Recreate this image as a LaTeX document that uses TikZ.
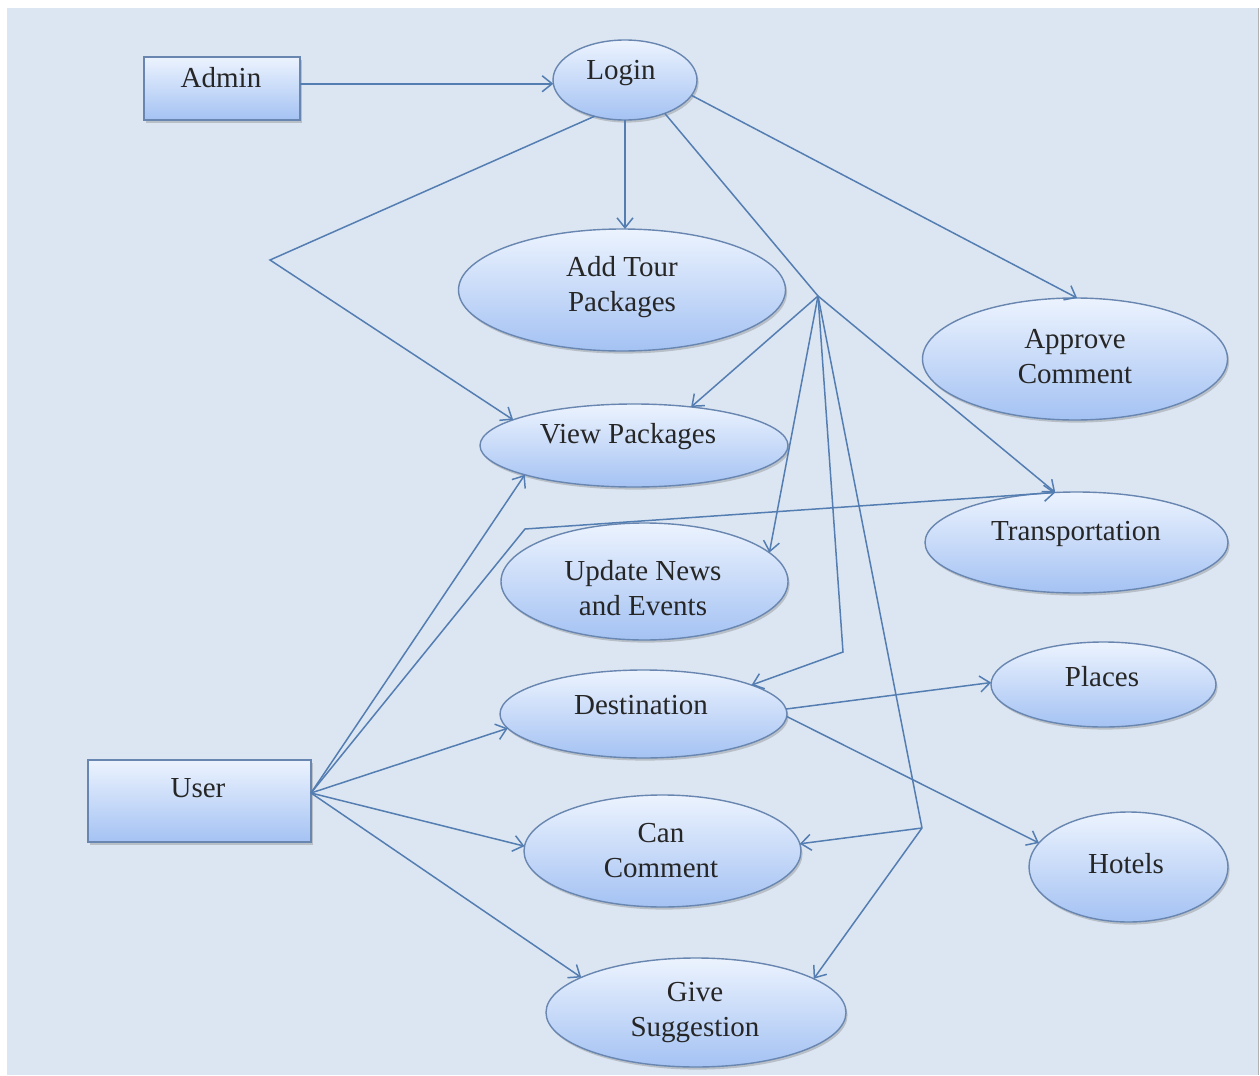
\documentclass[tikz,border=0pt]{standalone}
\usepackage{fontspec}
\setmainfont{Liberation Serif}
\usetikzlibrary{arrows.meta,shapes.geometric,shadows,calc}
\definecolor{bgc}{RGB}{220,230,242}
\definecolor{nodetop}{RGB}{236,243,254}
\definecolor{nodebot}{RGB}{164,194,243}
\definecolor{nodeedge}{RGB}{104,134,176}
\definecolor{linec}{RGB}{84,126,178}
\begin{document}
\begin{tikzpicture}[x=0.5pt,y=-0.5pt,
  shp/.style={draw=nodeedge, line width=0.7pt, top color=nodetop, bottom color=nodebot,
    drop shadow={shadow xshift=0.8pt,shadow yshift=-1.3pt,opacity=0.3,fill=black!60},
    inner sep=0pt, outer sep=0pt},
  uc/.style={shp, ellipse},
  actor/.style={shp, rectangle},
  lbl/.style={font=\fontsize{14.5}{17.5}\selectfont, align=center, inner sep=0pt, text=black!85},
  conn/.style={draw=linec, line width=0.75pt},
  arr/.style={conn, -{Straight Barb[length=5pt,width=8pt]}}
]
\useasboundingbox (0,0) rectangle (1260,1076);
\fill[white] (0,0) rectangle (1260,1076);
\fill[bgc] (7,8) rectangle (1258,1075);
\draw[gray!60, line width=0.6pt] (1258.5,8) -- (1258.5,1075);

% shapes
\node[actor, minimum width=78pt, minimum height=31.5pt] (admin) at (222,88.5) {};
\node[actor, minimum width=111.5pt, minimum height=41pt] (user) at (199.5,801) {};
\node[uc, minimum width=72pt, minimum height=40pt] (login) at (625,80) {};
\node[uc, minimum width=163.5pt, minimum height=61pt] (addtour) at (622,290) {};
\node[uc, minimum width=152.5pt, minimum height=61pt] (approve) at (1075,359) {};
\node[uc, minimum width=154pt, minimum height=41.5pt] (viewpk) at (634,445.5) {};
\node[uc, minimum width=151.5pt, minimum height=50.5pt] (transport) at (1076.5,542.5) {};
\node[uc, minimum width=143.5pt, minimum height=58.5pt] (updnews) at (644.5,581.5) {};
\node[uc, minimum width=143.5pt, minimum height=44pt] (dest) at (643.5,714) {};
\node[uc, minimum width=112.5pt, minimum height=42.5pt] (places) at (1103.5,684.5) {};
\node[uc, minimum width=99.5pt, minimum height=55pt] (hotels) at (1128.5,867) {};
\node[uc, minimum width=138.5pt, minimum height=56pt] (cancomment) at (662.5,851) {};
\node[uc, minimum width=150pt, minimum height=54.5pt] (givesugg) at (696,1012.5) {};

% labels
\node[lbl] (admin-t) at (221,78) {Admin};
\node[lbl] (user-t) at (198,788) {User};
\node[lbl] (login-t) at (621,73) {Login};
\node[lbl] (addtour-t) at (622,287) {Add Tour\\Packages};
\node[lbl] (approve-t) at (1075,357) {Approve\\Comment};
\node[lbl] (viewpk-t) at (628,437) {View Packages};
\node[lbl] (transport-t) at (1076,534) {Transportation};
\node[lbl] (updnews-t) at (643,588) {Update News\\and Events};
\node[lbl] (dest-t) at (641,705) {Destination};
\node[lbl] (places-t) at (1102,677) {Places};
\node[lbl] (hotels-t) at (1126,864) {Hotels};
\node[lbl] (cancomment-t) at (661,851) {Can\\Comment};
\node[lbl] (givesugg-t) at (695,1013) {Give\\Suggestion};

% junction points
\coordinate (hub) at (818,296);
\coordinate (bendD) at (843,652);
\coordinate (bendC) at (922,828);
\coordinate (bendU) at (525,529);
\coordinate (bendL) at (270,260);
\coordinate (uo) at ($(user.east)+(0,-8)$);

% connectors
\draw[arr] (admin.east |- login.183) -- (login.183);
\draw[arr] (login.230) -- (bendL) -- (viewpk.168);
\draw[arr] (login.south) -- (login.south |- addtour.north);
\draw[arr] (login.-13) -- (approve.88);
\draw[conn] (login.-40) -- (hub);
\draw[arr] (hub) -- (transport.113);
\draw[arr] (hub) -- (viewpk.34);
\draw[arr] (hub) -- (updnews.13);
\draw[arr] (hub) -- (bendD) -- (dest.15);
\draw[conn] (hub) -- (bendC);
\draw[arr] (bendC) -- (cancomment.3);
\draw[arr] (bendC) -- (givesugg.16);
\draw[arr] (uo) -- (viewpk.195);
\draw[arr] (uo) -- (bendU) -- (transport.113);
\draw[arr] (uo) -- (dest.186);
\draw[arr] (uo) -- (cancomment.178);
\draw[arr] (uo) -- (givesugg.163);
\draw[arr] (dest.2) -- (places.179);
\draw[arr] (dest.-1) -- (hotels.165);
\end{tikzpicture}
\end{document}
